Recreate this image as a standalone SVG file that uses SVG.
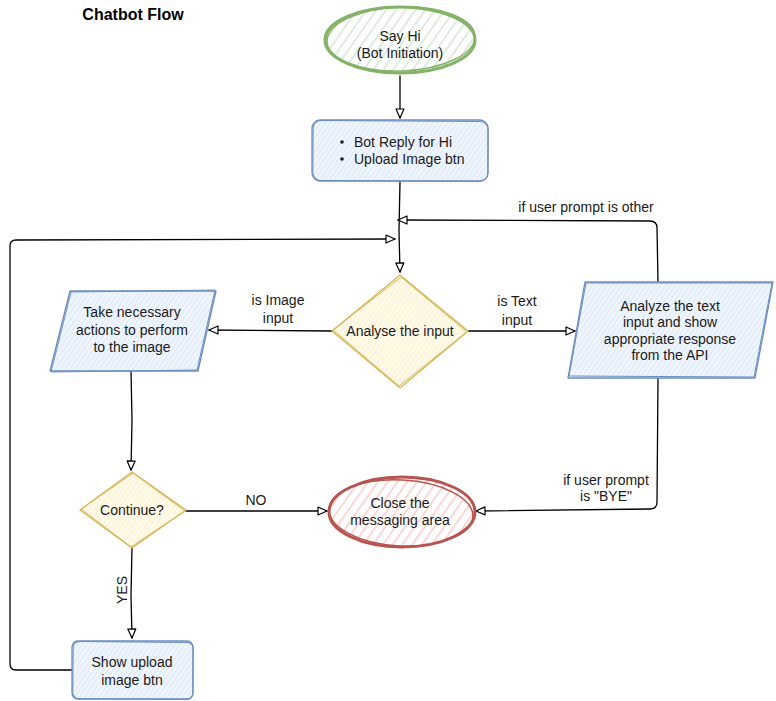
<svg xmlns="http://www.w3.org/2000/svg" width="776" height="701" viewBox="0 0 776 701">
<defs>
<style>
text{font-family:"Liberation Sans",Arial,sans-serif;font-size:14px;fill:#1a1a1a}
.c{text-anchor:middle}
.title{font-size:16px;font-weight:bold;fill:#000}
.conn{fill:none;stroke:#000;stroke-width:1.3;stroke-linecap:round;stroke-linejoin:round}
.green{stroke:#82b366;stroke-width:3;fill:url(#hg)}
.green2{stroke:#82b366;stroke-width:1.5;fill:none}
.blue{stroke:#6c8ebf;stroke-width:1.3;fill:url(#hb)}
.blue2{stroke:#6c8ebf;stroke-width:1;fill:none}
.yel{stroke:#d6b656;stroke-width:1.3;fill:url(#hy)}
.yel2{stroke:#d6b656;stroke-width:1;fill:none}
.red{stroke:#b85450;stroke-width:3;fill:url(#hr)}
.red2{stroke:#b85450;stroke-width:1.5;fill:none}
</style>
<pattern id="hg" width="8" height="8" patternUnits="userSpaceOnUse" patternTransform="rotate(35)"><rect width="8" height="8" fill="#fff"/><line x1="2" y1="0" x2="2" y2="8" stroke="#d5e8d4" stroke-width="1.6"/></pattern>
<pattern id="hb" width="4" height="4" patternUnits="userSpaceOnUse" patternTransform="rotate(35)"><rect width="4" height="4" fill="#f3f7fd"/><line x1="1" y1="0" x2="1" y2="4" stroke="#dae8fc" stroke-width="1.3"/></pattern>
<pattern id="hy" width="4" height="4" patternUnits="userSpaceOnUse" patternTransform="rotate(35)"><rect width="4" height="4" fill="#fffbf0"/><line x1="1" y1="0" x2="1" y2="4" stroke="#fff2cc" stroke-width="1.5"/></pattern>
<pattern id="hr" width="8" height="8" patternUnits="userSpaceOnUse" patternTransform="rotate(35)"><rect width="8" height="8" fill="#fff"/><line x1="2" y1="0" x2="2" y2="8" stroke="#f8cecc" stroke-width="1.6"/></pattern>
<marker id="arr" markerUnits="userSpaceOnUse" markerWidth="12" markerHeight="10" refX="9" refY="4" orient="auto" overflow="visible">
<path d="M0,0 L9,4 L0,8 Z" fill="#fff" stroke="#000" stroke-width="1.2" stroke-linejoin="round"/>
</marker>
</defs>
<rect width="776" height="701" fill="#fff"/>

<text class="title c" x="133" y="20">Chatbot Flow</text>

<g id="connectors">
<path class="conn" d="M400,76 L400,118" marker-end="url(#arr)"/>
<path class="conn" d="M400,182 L399,230 L400,272" marker-end="url(#arr)"/>
<path class="conn" d="M658,282 L657,228 Q657,221 650,221 L398,220" marker-end="url(#arr)"/>
<path class="conn" d="M72,670 L16,670 Q10,670 10,664 L10,246 Q10,240 16,240 L395,239" marker-end="url(#arr)"/>
<path class="conn" d="M332,331 L209,330" marker-end="url(#arr)"/>
<path class="conn" d="M468,331 L575,331" marker-end="url(#arr)"/>
<path class="conn" d="M131,371 L132,420 L131,470" marker-end="url(#arr)"/>
<path class="conn" d="M186,511 L327,511" marker-end="url(#arr)"/>
<path class="conn" d="M658,378 L657,502 Q657,509 650,509 L476,511" marker-end="url(#arr)"/>
<path class="conn" d="M132,548 L131,595 L132,638" marker-end="url(#arr)"/>
<text class="c" x="278" y="305">is Image</text>
<text class="c" x="278" y="323">input</text>
<text class="c" x="517" y="306">is Text</text>
<text class="c" x="517" y="325">input</text>
<text class="c" x="586" y="212">if user prompt is other</text>
<text class="c" x="256" y="505">NO</text>
<text class="c" x="606" y="485">if user prompt</text>
<text class="c" x="606" y="501">is "BYE"</text>
<text class="c" x="0" y="0" transform="translate(127,590) rotate(-90)">YES</text>
</g>

<g id="say-hi">
<ellipse class="green" cx="400" cy="40" rx="75" ry="33"/>
<ellipse class="green2" cx="401" cy="39" rx="74" ry="32" transform="rotate(-2 400 40)"/>
<text class="c" x="400" y="41">Say Hi</text>
<text class="c" x="400" y="58">(Bot Initiation)</text>
</g>

<g id="bot-reply">
<rect class="blue" x="312" y="120" width="176" height="61" rx="8"/>
<rect class="blue2" x="313" y="121" width="175" height="60" rx="8" transform="rotate(0.4 400 150)"/>
<circle cx="342" cy="142" r="1.8" fill="#1a1a1a"/>
<circle cx="342" cy="159" r="1.8" fill="#1a1a1a"/>
<text x="354" y="147">Bot Reply for Hi</text>
<text x="354" y="164">Upload Image btn</text>
</g>

<g id="analyse">
<path class="yel" d="M400,275 L468,331 L400,388 L332,331 Z"/>
<path class="yel2" d="M401,277 L467,332 L399,386 L333,330 Z"/>
<text class="c" x="400" y="336">Analyse the input</text>
</g>

<g id="image-action">
<path class="blue" d="M70,291 L216,291 L198,371 L50,371 Z" stroke-linejoin="round"/>
<path class="blue2" d="M71,292 L215,290 L197,370 L51,372 Z" stroke-linejoin="round"/>
<text class="c" x="132" y="317">Take necessary</text>
<text class="c" x="132" y="335">actions to perform</text>
<text class="c" x="132" y="352">to the image</text>
</g>

<g id="text-action">
<path class="blue" d="M585,282 L773,282 L755,378 L568,378 Z" stroke-linejoin="round"/>
<path class="blue2" d="M586,283 L772,283 L754,377 L569,376 Z" stroke-linejoin="round"/>
<text class="c" x="670" y="311">Analyze the text</text>
<text class="c" x="670" y="327">input and show</text>
<text class="c" x="670" y="344">appropriate response</text>
<text class="c" x="670" y="360">from the API</text>
</g>

<g id="continue">
<path class="yel" d="M132,472 L186,510 L132,548 L80,510 Z" stroke-linejoin="round"/>
<path class="yel2" d="M133,473 L185,511 L131,547 L81,509 Z" stroke-linejoin="round"/>
<text class="c" x="132" y="515">Continue?</text>
</g>

<g id="close">
<ellipse class="red" cx="402" cy="512" rx="73" ry="35"/>
<ellipse class="red2" cx="401" cy="513" rx="72" ry="33" transform="rotate(3 402 512)"/>
<text class="c" x="400" y="508">Close the</text>
<text class="c" x="400" y="525">messaging area</text>
</g>

<g id="show-upload">
<rect class="blue" x="72" y="641" width="121" height="58" rx="6"/>
<rect class="blue2" x="73" y="642" width="120" height="57" rx="6" transform="rotate(0.5 132 670)"/>
<text class="c" x="132" y="667">Show upload</text>
<text class="c" x="132" y="685">image btn</text>
</g>
</svg>
